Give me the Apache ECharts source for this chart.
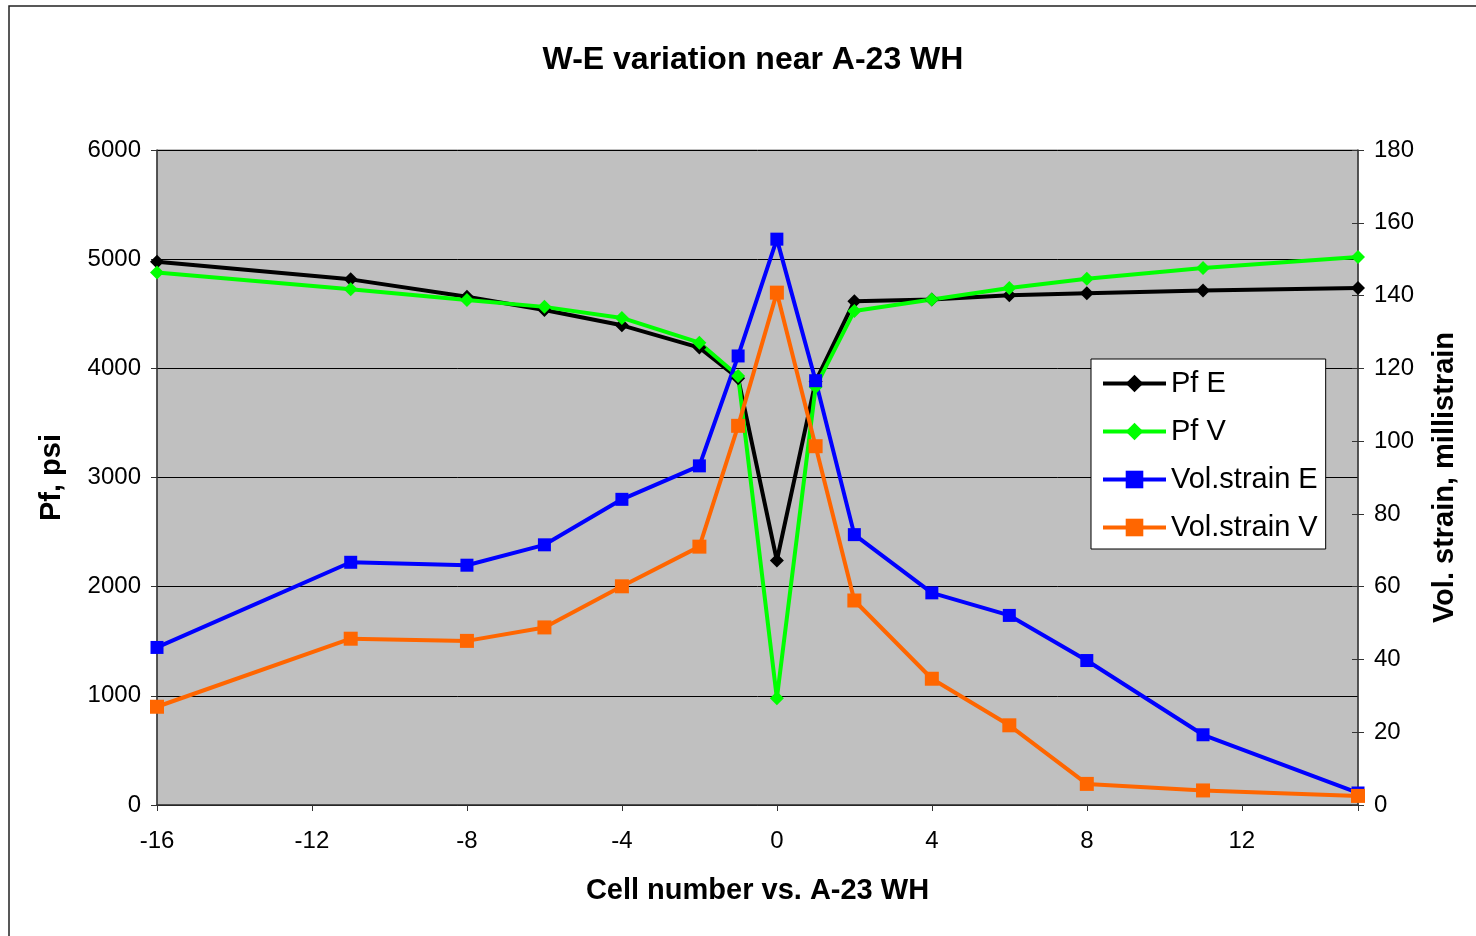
<!DOCTYPE html>
<html>
<head>
<meta charset="utf-8">
<script src="https://cdn.jsdelivr.net/npm/echarts@6/dist/echarts.min.js"></script>
<style>
  html, body { margin: 0; padding: 0; background: #fff; }
  #chart { width: 1476px; height: 936px; }
</style>
</head>
<body>
<div id="chart"></div>
<script>
// cell positions relative to A-23 WH
var cells = [-16, -11, -8, -6, -4, -2, -1, 0, 1, 2, 4, 6, 8, 11, 15];
// pore pressure, psi (left axis)
var pfE = [4976, 4815, 4655, 4535, 4394, 4190, 3910, 2240, 3880, 4615, 4630, 4670, 4688, 4713, 4736];
var pfV = [4878, 4725, 4627, 4563, 4462, 4235, 3930, 978, 3830, 4526, 4630, 4736, 4820, 4920, 5020];
// volumetric strain, millistrain (right axis)
var volE = [43.3, 66.7, 65.9, 71.5, 84.0, 93.2, 123.4, 155.5, 116.6, 74.3, 58.3, 52.1, 39.7, 19.3, 3.3];
var volV = [27.0, 45.7, 45.1, 48.8, 60.1, 71.0, 104.2, 140.8, 98.6, 56.2, 34.7, 21.9, 5.8, 4.0, 2.5];

var leftTicks = [0, 6000, 1000];
var rightTicks = [0, 180, 20];

function pairs(ys) {
  return cells.map(function (x, i) { return [x, ys[i]]; });
}

var font = "'Liberation Sans', Arial, sans-serif";
var diamond = "path://M0,-10L10,0L0,10L-10,0Z";
var nameStyle = { fontFamily: font, fontSize: 29, fontWeight: "bold", color: "#000" };
var plain = function (v) { return String(v); };

var myChart = echarts.init(document.getElementById("chart"));

var option = {
  backgroundColor: "#fff",
  animation: false,
  textStyle: { fontFamily: font, color: "#000" },
  title: {
    text: "W-E variation near A-23 WH",
    left: 748,
    textAlign: "center",
    top: 39,
    textStyle: { fontFamily: font, fontSize: 32, fontWeight: "bold", color: "#000" },
  },
  graphic: [
    {
      type: "rect",
      shape: { x: 9, y: 6, width: 1600, height: 1200 },
      style: { fill: null, stroke: "#222", lineWidth: 1.5 },
      silent: true,
    },
  ],
  grid: {
    left: 157,
    right: 118,
    top: 150,
    bottom: 131,
    show: true,
    backgroundColor: "#c0c0c0",
    borderColor: "#808080",
    borderWidth: 1,
  },
  legend: {
    orient: "vertical",
    left: 1091,
    top: 359,
    backgroundColor: "#fff",
    borderColor: "#000",
    borderWidth: 1,
    padding: [10, 8, 7, 10],
    itemWidth: 63,
    itemHeight: 22,
    itemGap: 19,
    lineStyle: { width: 4 },
    textStyle: { fontFamily: font, fontSize: 29, lineHeight: 29, color: "#000" },
    data: ["Pf E", "Pf V", "Vol.strain E", "Vol.strain V"],
  },
  xAxis: {
    type: "value",
    min: -16,
    max: 15,
    interval: 4,
    name: "Cell number vs. A-23 WH",
    nameLocation: "middle",
    nameGap: 71,
    nameTextStyle: nameStyle,
    axisLine: { onZero: false, lineStyle: { color: "#333", width: 1.5 } },
    axisTick: { show: true, length: 6, lineStyle: { color: "#333" } },
    axisLabel: {
      margin: 24,
      fontSize: 24,
      color: "#000",
      fontFamily: font,
      formatter: function (v) { return v === 15 ? "" : String(v); },
    },
    splitLine: { show: false },
  },
  yAxis: [
    {
      type: "value",
      min: leftTicks[0],
      max: leftTicks[1],
      interval: leftTicks[2],
      name: "Pf, psi",
      nameLocation: "middle",
      nameRotate: 90,
      nameGap: 91,
      nameTextStyle: nameStyle,
      axisLine: { show: true, onZero: false, lineStyle: { color: "#333", width: 1.5 } },
      axisTick: { show: true, length: 6, lineStyle: { color: "#333" } },
      axisLabel: { margin: 16, fontSize: 24, color: "#000", fontFamily: font, formatter: plain },
      splitLine: { show: true, lineStyle: { color: "#000", width: 1 } },
    },
    {
      type: "value",
      position: "right",
      min: rightTicks[0],
      max: rightTicks[1],
      interval: rightTicks[2],
      name: "Vol. strain, millistrain",
      nameLocation: "middle",
      nameRotate: 90,
      nameGap: 72,
      nameTextStyle: nameStyle,
      axisLine: { show: true, onZero: false, lineStyle: { color: "#333", width: 1.5 } },
      axisTick: { show: true, length: 6, lineStyle: { color: "#333" } },
      axisLabel: { margin: 16, fontSize: 24, color: "#000", fontFamily: font, formatter: plain },
      splitLine: { show: false },
    },
    {
      // inner half of the crossing ticks on the right axis
      type: "value",
      position: "right",
      min: rightTicks[0],
      max: rightTicks[1],
      interval: rightTicks[2],
      axisLine: { show: false, onZero: false },
      axisTick: { show: true, inside: true, length: 6, lineStyle: { color: "#333" } },
      axisLabel: { show: false },
      splitLine: { show: false },
    },
  ],
  series: [
    {
      name: "Pf E",
      type: "line",
      yAxisIndex: 0,
      data: pairs(pfE),
      color: "#000000",
      lineStyle: { width: 4 },
      symbol: diamond,
      symbolSize: 14,
    },
    {
      name: "Pf V",
      type: "line",
      yAxisIndex: 0,
      data: pairs(pfV),
      color: "#00ff00",
      lineStyle: { width: 4 },
      symbol: diamond,
      symbolSize: 14,
    },
    {
      name: "Vol.strain E",
      type: "line",
      yAxisIndex: 1,
      data: pairs(volE),
      color: "#0000ff",
      lineStyle: { width: 4 },
      symbol: "rect",
      symbolSize: 13,
    },
    {
      name: "Vol.strain V",
      type: "line",
      yAxisIndex: 1,
      data: pairs(volV),
      color: "#ff6600",
      lineStyle: { width: 4 },
      symbol: "rect",
      symbolSize: 14,
    },
  ],
};

option && myChart.setOption(option);
</script>
</body>
</html>
